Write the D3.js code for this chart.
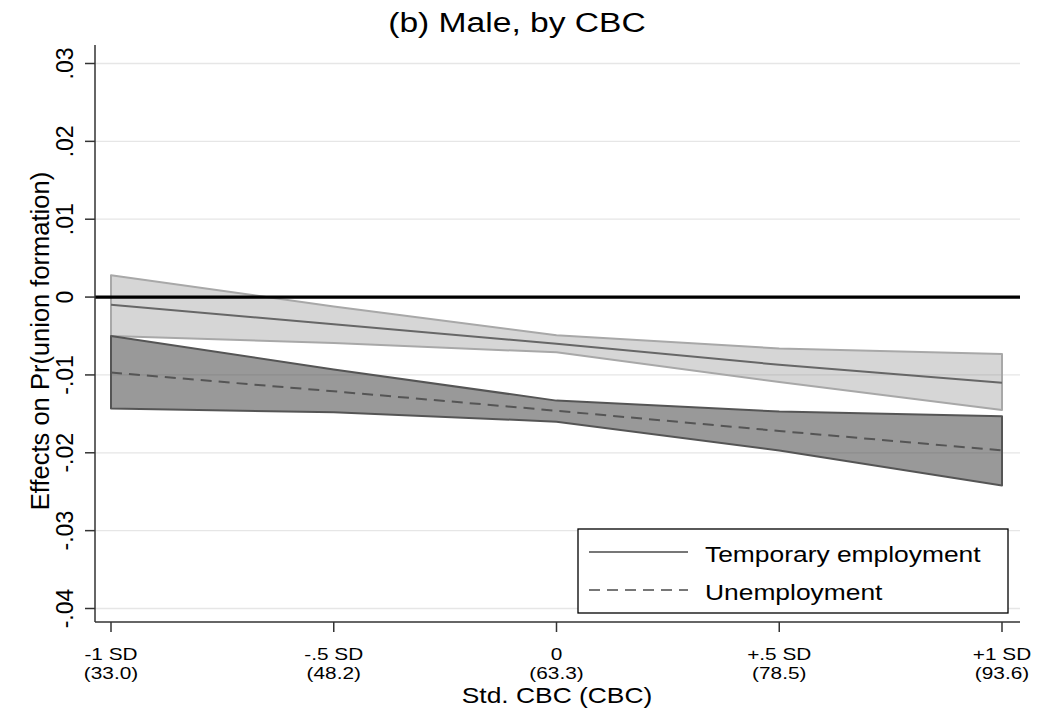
<!DOCTYPE html>
<html><head><meta charset="utf-8">
<script src="https://cdn.jsdelivr.net/npm/d3@7"></script>
<style>body{margin:0;background:#fff}svg{display:block;font-family:"Liberation Sans",Arial,sans-serif}</style>
</head><body><svg id="c" width="1051" height="713"></svg>
<script>
const xVals = [-1, -0.5, 0, 0.5, 1];
const xTickTop = ["-1 SD", "-.5 SD", "0", "+.5 SD", "+1 SD"];
const xTickBottom = ["(33.0)", "(48.2)", "(63.3)", "(78.5)", "(93.6)"];
const yTicks = [-0.04, -0.03, -0.02, -0.01, 0, 0.01, 0.02, 0.03];
const yTickLabels = ["-.04", "-.03", "-.02", "-.01", "0", ".01", ".02", ".03"];
const tempEst = [-0.0010, -0.0035, -0.0060, -0.0087, -0.0110];
const tempLo  = [-0.0050, -0.0059, -0.0071, -0.0109, -0.0145];
const tempHi  = [0.0028, -0.0012, -0.0049, -0.0066, -0.0073];
const unEst = [-0.0097, -0.0121, -0.0146, -0.0172, -0.0197];
const unLo  = [-0.0143, -0.0148, -0.0160, -0.0197, -0.0242];
const unHi  = [-0.0050, -0.0093, -0.0133, -0.0147, -0.0153];
const legendLabels = ["Temporary employment", "Unemployment"];

const svg = d3.select("#c");
const L = 95, R = 1020, T = 45, B = 622, SX = 1.2;
const x = d3.scaleLinear().domain([-1, 1]).range([111, 1002]);
const y = d3.scaleLinear().domain([-0.04, 0.03]).range([608.5, 63.5]);

function txt(g, px, py, s, size, rot, sx) {
  const k = sx || SX;
  return g.append("text")
    .attr("transform", rot ? `translate(${px},${py}) rotate(-90)` : `translate(${px},${py}) scale(${k},1)`)
    .attr("text-anchor", "middle").attr("font-size", size).attr("fill", "#000").text(s);
}

// gridlines
svg.append("g").selectAll("line").data(yTicks).join("line")
  .attr("x1", L).attr("x2", R).attr("y1", d => y(d)).attr("y2", d => y(d))
  .attr("stroke", "#e6e6e6").attr("stroke-width", 1.3);

function band(lo, hi, fill, op, stroke) {
  const a = d3.area().x((d, i) => x(xVals[i])).y0((d, i) => y(lo[i])).y1((d, i) => y(hi[i]));
  svg.append("path").datum(lo).attr("d", a)
    .attr("fill", fill).attr("fill-opacity", op)
    .attr("stroke", stroke).attr("stroke-width", 2).attr("stroke-linejoin", "round");
}
band(tempLo, tempHi, "#808080", 0.32, "#a8a8a8");
band(unLo, unHi, "#333333", 0.5, "#555555");

// zero line
svg.append("line").attr("x1", L).attr("x2", R).attr("y1", y(0)).attr("y2", y(0))
  .attr("stroke", "#000").attr("stroke-width", 3.2);

const line = d3.line().x((d, i) => x(xVals[i])).y(d => y(d));
svg.append("path").datum(tempEst).attr("d", line).attr("fill", "none")
  .attr("stroke", "#666").attr("stroke-width", 2);
svg.append("path").datum(unEst).attr("d", line).attr("fill", "none")
  .attr("stroke", "#555").attr("stroke-width", 2).attr("stroke-dasharray", "11,7");

// axes
const ax = svg.append("g").attr("stroke", "#333").attr("stroke-width", 1.5);
ax.append("line").attr("x1", L).attr("x2", L).attr("y1", T).attr("y2", B);
ax.append("line").attr("x1", L).attr("x2", R).attr("y1", B).attr("y2", B);
ax.selectAll(".yt").data(yTicks).join("line").attr("x1", L - 10).attr("x2", L)
  .attr("y1", d => y(d)).attr("y2", d => y(d));
ax.selectAll(".xt").data(xVals).join("line").attr("y1", B).attr("y2", B + 10)
  .attr("x1", d => x(d)).attr("x2", d => x(d));

const yl = svg.append("g");
yTicks.forEach((d, i) => txt(yl, 73, y(d), yTickLabels[i], 23, true));

const xl = svg.append("g");
xVals.forEach((d, i) => {
  txt(xl, x(d), 660, xTickTop[i], 16, false, 1.3);
  txt(xl, x(d), 679, xTickBottom[i], 16, false, 1.3);
});

txt(svg, 557, 703, "Std. CBC (CBC)", 22, false);
txt(svg, 49, 341, "Effects on Pr(union formation)", 25.5, true);
txt(svg, 517, 32, "(b) Male, by CBC", 28, false);

// legend
const lg = svg.append("g");
lg.append("rect").attr("x", 578).attr("y", 529).attr("width", 430).attr("height", 84)
  .attr("fill", "#fff").attr("stroke", "#000").attr("stroke-width", 1.3);
const rows = [552, 590];
lg.append("line").attr("x1", 589).attr("x2", 688).attr("y1", rows[0]).attr("y2", rows[0])
  .attr("stroke", "#777").attr("stroke-width", 2);
lg.append("line").attr("x1", 589).attr("x2", 688).attr("y1", rows[1]).attr("y2", rows[1])
  .attr("stroke", "#777").attr("stroke-width", 2).attr("stroke-dasharray", "11,7");
legendLabels.forEach((s, i) => {
  lg.append("text").attr("transform", `translate(705,${rows[i] + 10}) scale(${SX},1)`)
    .attr("font-size", 22).text(s);
});
</script></body></html>
